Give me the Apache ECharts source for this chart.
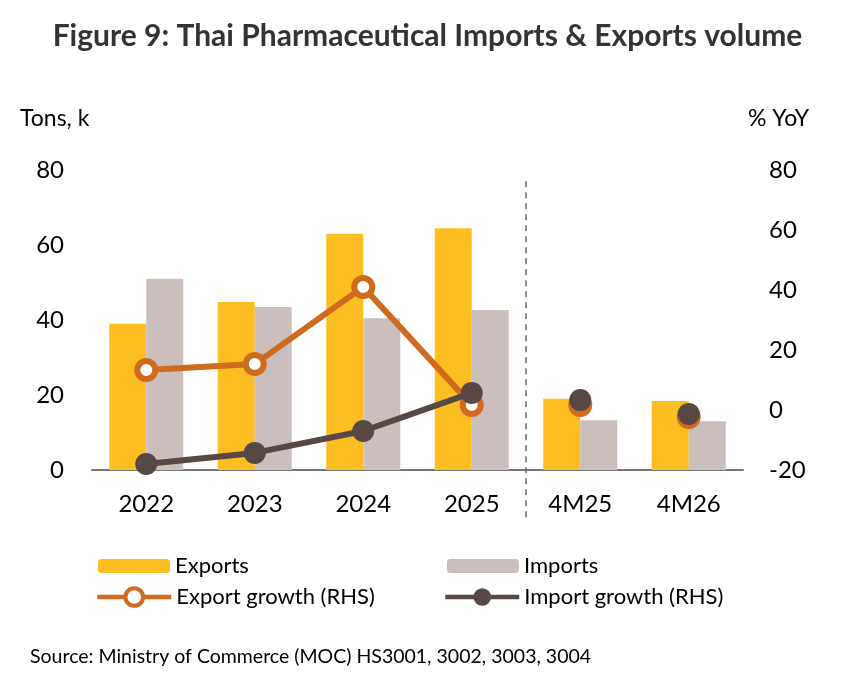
<!DOCTYPE html>
<html>
<head>
<meta charset="utf-8">
<script src="https://cdn.jsdelivr.net/npm/echarts@6/dist/echarts.min.js"></script>
<style>
  html, body { margin: 0; padding: 0; background: #fff; }
  #chart { width: 855px; height: 700px; }
</style>
</head>
<body>
<div id="chart"></div>
<script>
const categories = ['2022', '2023', '2024', '2025', '4M25', '4M26']
const exportsVol = [39, 44.8, 63, 64.5, 19, 18.4]
const importsVol = [51, 43.5, 40.5, 42.7, 13.3, 13]
// growth, % YoY (RHS); the first four are joined, the 4M points stand alone
const exportGrowthYears = [13.3, 15.3, 41, 1.7, '-', '-']
const exportGrowth4M = ['-', '-', '-', '-', 1.7, -2.3]
const importGrowthYears = [-18, -14.3, -7, 5.7, '-', '-']
const importGrowth4M = ['-', '-', '-', '-', 3.3, -1.3]

const font = 'Lato'
const cExp = '#FDBE22'
const cImp = '#CBBFBD'
const cExpG = '#CF6A1F'
const cImpG = '#574843'

const chart = echarts.init(document.getElementById('chart'))

function growthSeries (name, data, color, hollow, showLine, z) {
  return {
    name: name,
    type: 'line',
    yAxisIndex: 1,
    data: data,
    symbol: 'circle',
    symbolSize: hollow ? 18 : 22,
    showAllSymbol: true,
    z: z,
    lineStyle: { color: color, width: 6, opacity: showLine ? 1 : 0 },
    itemStyle: hollow
      ? { color: '#fff', borderColor: color, borderWidth: 6 }
      : { color: color, borderColor: color, borderWidth: 0 }
  }
}

const legendText = { fontFamily: font, fontSize: 22, color: '#000' }

function legendItem (name, left, top, w, h, lineW, borderW) {
  return {
    left: left,
    top: top,
    itemWidth: w,
    itemHeight: h,
    itemGap: 0,
    textStyle: legendText,
    lineStyle: { width: lineW },
    itemStyle: { borderWidth: borderW },
    data: [name]
  }
}

chart.setOption({
  animation: false,
  textStyle: { fontFamily: font },
  title: [
    {
      text: 'Figure 9: Thai Pharmaceutical Imports & Exports volume',
      left: 'center',
      top: 16,
      textStyle: { fontFamily: font, fontSize: 30, fontWeight: 'bold', color: '#333' }
    },
    {
      text: 'Source: Ministry of Commerce (MOC) HS3001, 3002, 3003, 3004',
      left: 25,
      top: 642,
      textStyle: { fontFamily: font, fontSize: 19.5, fontWeight: 'normal', color: '#000' }
    }
  ],
  legend: [
    legendItem('Exports', 93, 550, 72, 14, 0, 0),
    legendItem('Imports', 442, 550, 72, 14, 0, 0),
    legendItem('Export growth (RHS)', 90, 581, 74, 22, 4.5, 4),
    legendItem('Import growth (RHS)', 438, 581, 74, 22, 4.5, 0)
  ],
  grid: { left: 92, right: 112, top: 170, bottom: 230 },
  xAxis: {
    type: 'category',
    data: categories,
    axisLine: { lineStyle: { color: '#777', width: 2 } },
    axisTick: { show: false },
    axisLabel: { fontFamily: font, fontSize: 24, color: '#000', margin: 22 }
  },
  yAxis: [
    {
      type: 'value',
      min: 0,
      max: 80,
      interval: 20,
      name: 'Tons, k',
      nameLocation: 'end',
      nameGap: 40,
      nameTextStyle: { fontFamily: font, fontSize: 23, color: '#000', align: 'left', padding: [0, 0, 0, -72] },
      splitLine: { show: false },
      axisLine: { show: false },
      axisTick: { show: false },
      axisLabel: { fontFamily: font, fontSize: 24, color: '#000', margin: 28 }
    },
    {
      type: 'value',
      min: -20,
      max: 80,
      interval: 20,
      name: '% YoY',
      nameLocation: 'end',
      nameGap: 40,
      nameTextStyle: { fontFamily: font, fontSize: 23, color: '#000', align: 'left', padding: [0, 0, 0, 5] },
      splitLine: { show: false },
      axisLine: { show: false },
      axisTick: { show: false },
      axisLabel: { fontFamily: font, fontSize: 24, color: '#000', margin: 26 }
    }
  ],
  series: [
    {
      name: 'Exports',
      type: 'bar',
      data: exportsVol,
      barWidth: 37,
      barGap: '0%',
      itemStyle: { color: cExp }
    },
    {
      name: 'Imports',
      type: 'bar',
      data: importsVol,
      barWidth: 37,
      barGap: '0%',
      itemStyle: { color: cImp }
    },
    growthSeries('Export growth (RHS)', exportGrowthYears, cExpG, true, true, 3),
    growthSeries('Export growth (RHS)', exportGrowth4M, cExpG, true, false, 3),
    growthSeries('Import growth (RHS)', importGrowthYears, cImpG, false, true, 4),
    growthSeries('Import growth (RHS)', importGrowth4M, cImpG, false, false, 4)
  ]
})

// dashed divider between the full years and the 4-month figures
const xa = chart.convertToPixel({ xAxisIndex: 0 }, 3)
const xb = chart.convertToPixel({ xAxisIndex: 0 }, 4)
const yTop = chart.convertToPixel({ yAxisIndex: 0 }, 77)
const yBase = chart.convertToPixel({ yAxisIndex: 0 }, 0)
chart.setOption({
  graphic: [{
    type: 'line',
    shape: { x1: (xa + xb) / 2, y1: yTop, x2: (xa + xb) / 2, y2: yBase + 48 },
    style: { stroke: '#666', lineWidth: 1.5, lineDash: [6, 5] },
    z: 1
  }]
})
</script>
</body>
</html>
